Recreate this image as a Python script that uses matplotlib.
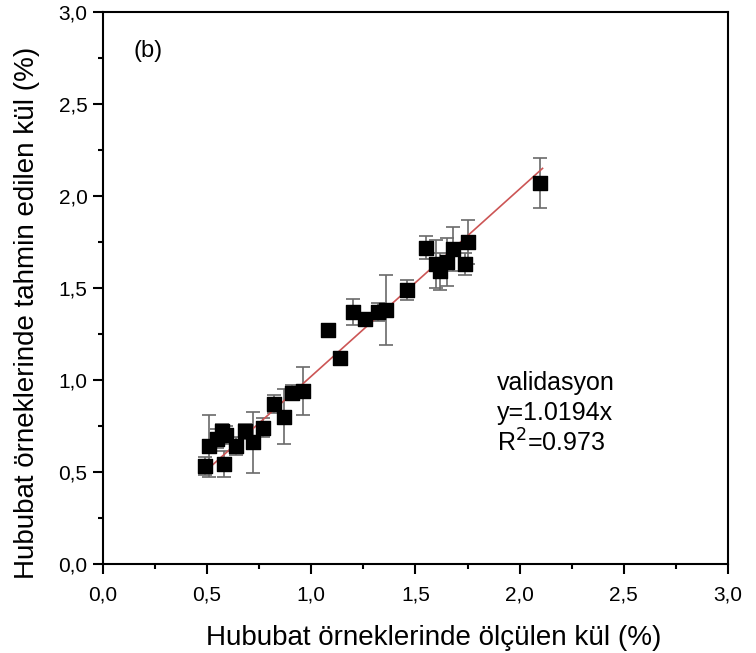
import matplotlib
matplotlib.use("Agg")
import matplotlib.pyplot as plt
from matplotlib.ticker import MultipleLocator, FuncFormatter

plt.rcParams['font.family'] = ['Liberation Sans', 'DejaVu Sans']

measured = [0.49, 0.51, 0.55, 0.57, 0.58, 0.59, 0.64, 0.68, 0.72, 0.77,
            0.82, 0.87, 0.91, 0.96, 1.08, 1.14, 1.20, 1.26, 1.32, 1.36,
            1.46, 1.55, 1.60, 1.62, 1.65, 1.68, 1.74, 1.75, 2.10]
predicted = [0.53, 0.64, 0.68, 0.72, 0.54, 0.70, 0.64, 0.72, 0.66, 0.74,
             0.87, 0.80, 0.93, 0.94, 1.27, 1.12, 1.37, 1.33, 1.37, 1.38,
             1.49, 1.72, 1.63, 1.59, 1.64, 1.71, 1.63, 1.75, 2.07]
errors = [0.05, 0.17, 0.05, 0.04, 0.07, 0.05, 0.05, 0.04, 0.165, 0.05,
          0.05, 0.15, 0.04, 0.13, 0.0, 0.0, 0.07, 0.02, 0.05, 0.19,
          0.055, 0.065, 0.13, 0.10, 0.13, 0.12, 0.06, 0.12, 0.135]
slope = 1.0194
fit_x = [0.49, 2.11]

fig = plt.figure(figsize=(7.56, 6.53), dpi=100)
ax = fig.add_axes([0.136, 0.137, 0.827, 0.844])

ax.errorbar(measured, predicted, yerr=errors, fmt='none', ecolor='#6a6a6a',
            elinewidth=1.2, capsize=5, capthick=1.2, zorder=2)
ax.plot(fit_x, [slope * v for v in fit_x], color='#cc5555', lw=1.2, zorder=3)
ax.scatter(measured, predicted, marker='s', s=105, color='black', zorder=4)

ax.set_xlim(0, 3)
ax.set_ylim(0, 3)
ax.xaxis.set_major_locator(MultipleLocator(0.5))
ax.yaxis.set_major_locator(MultipleLocator(0.5))
ax.xaxis.set_minor_locator(MultipleLocator(0.25))
ax.yaxis.set_minor_locator(MultipleLocator(0.25))
fmt = FuncFormatter(lambda v, p: f"{v:.1f}".replace('.', ','))
ax.xaxis.set_major_formatter(fmt)
ax.yaxis.set_major_formatter(fmt)
ax.tick_params(which='major', direction='out', length=7, width=1.5,
               labelsize=15)
ax.tick_params(axis='x', which='major', pad=9)
ax.tick_params(axis='y', which='major', pad=4)
ax.tick_params(which='minor', direction='out', length=3.5, width=1.5)
for s in ax.spines.values():
    s.set_linewidth(1.5)

ax.set_xlabel("Hububat örneklerinde ölçülen kül (%)", fontsize=20)
ax.set_ylabel("Hububat örneklerinde tahmin edilen kül (%)", fontsize=20)
ax.xaxis.set_label_coords(0.529, -0.112)
ax.yaxis.set_label_coords(-0.1, 0.455)

ax.text(0.216, 2.79, "(b)", fontsize=17, ha='center', va='center')
ax.text(1.89, 0.983, "validasyon", fontsize=18, va='center')
ax.text(1.89, 0.82, "y=1.0194x", fontsize=18, va='center')
ax.text(1.89, 0.656, "R$^2$=0.973", fontsize=18, va='center')

fig.savefig("out.png", dpi=100)
